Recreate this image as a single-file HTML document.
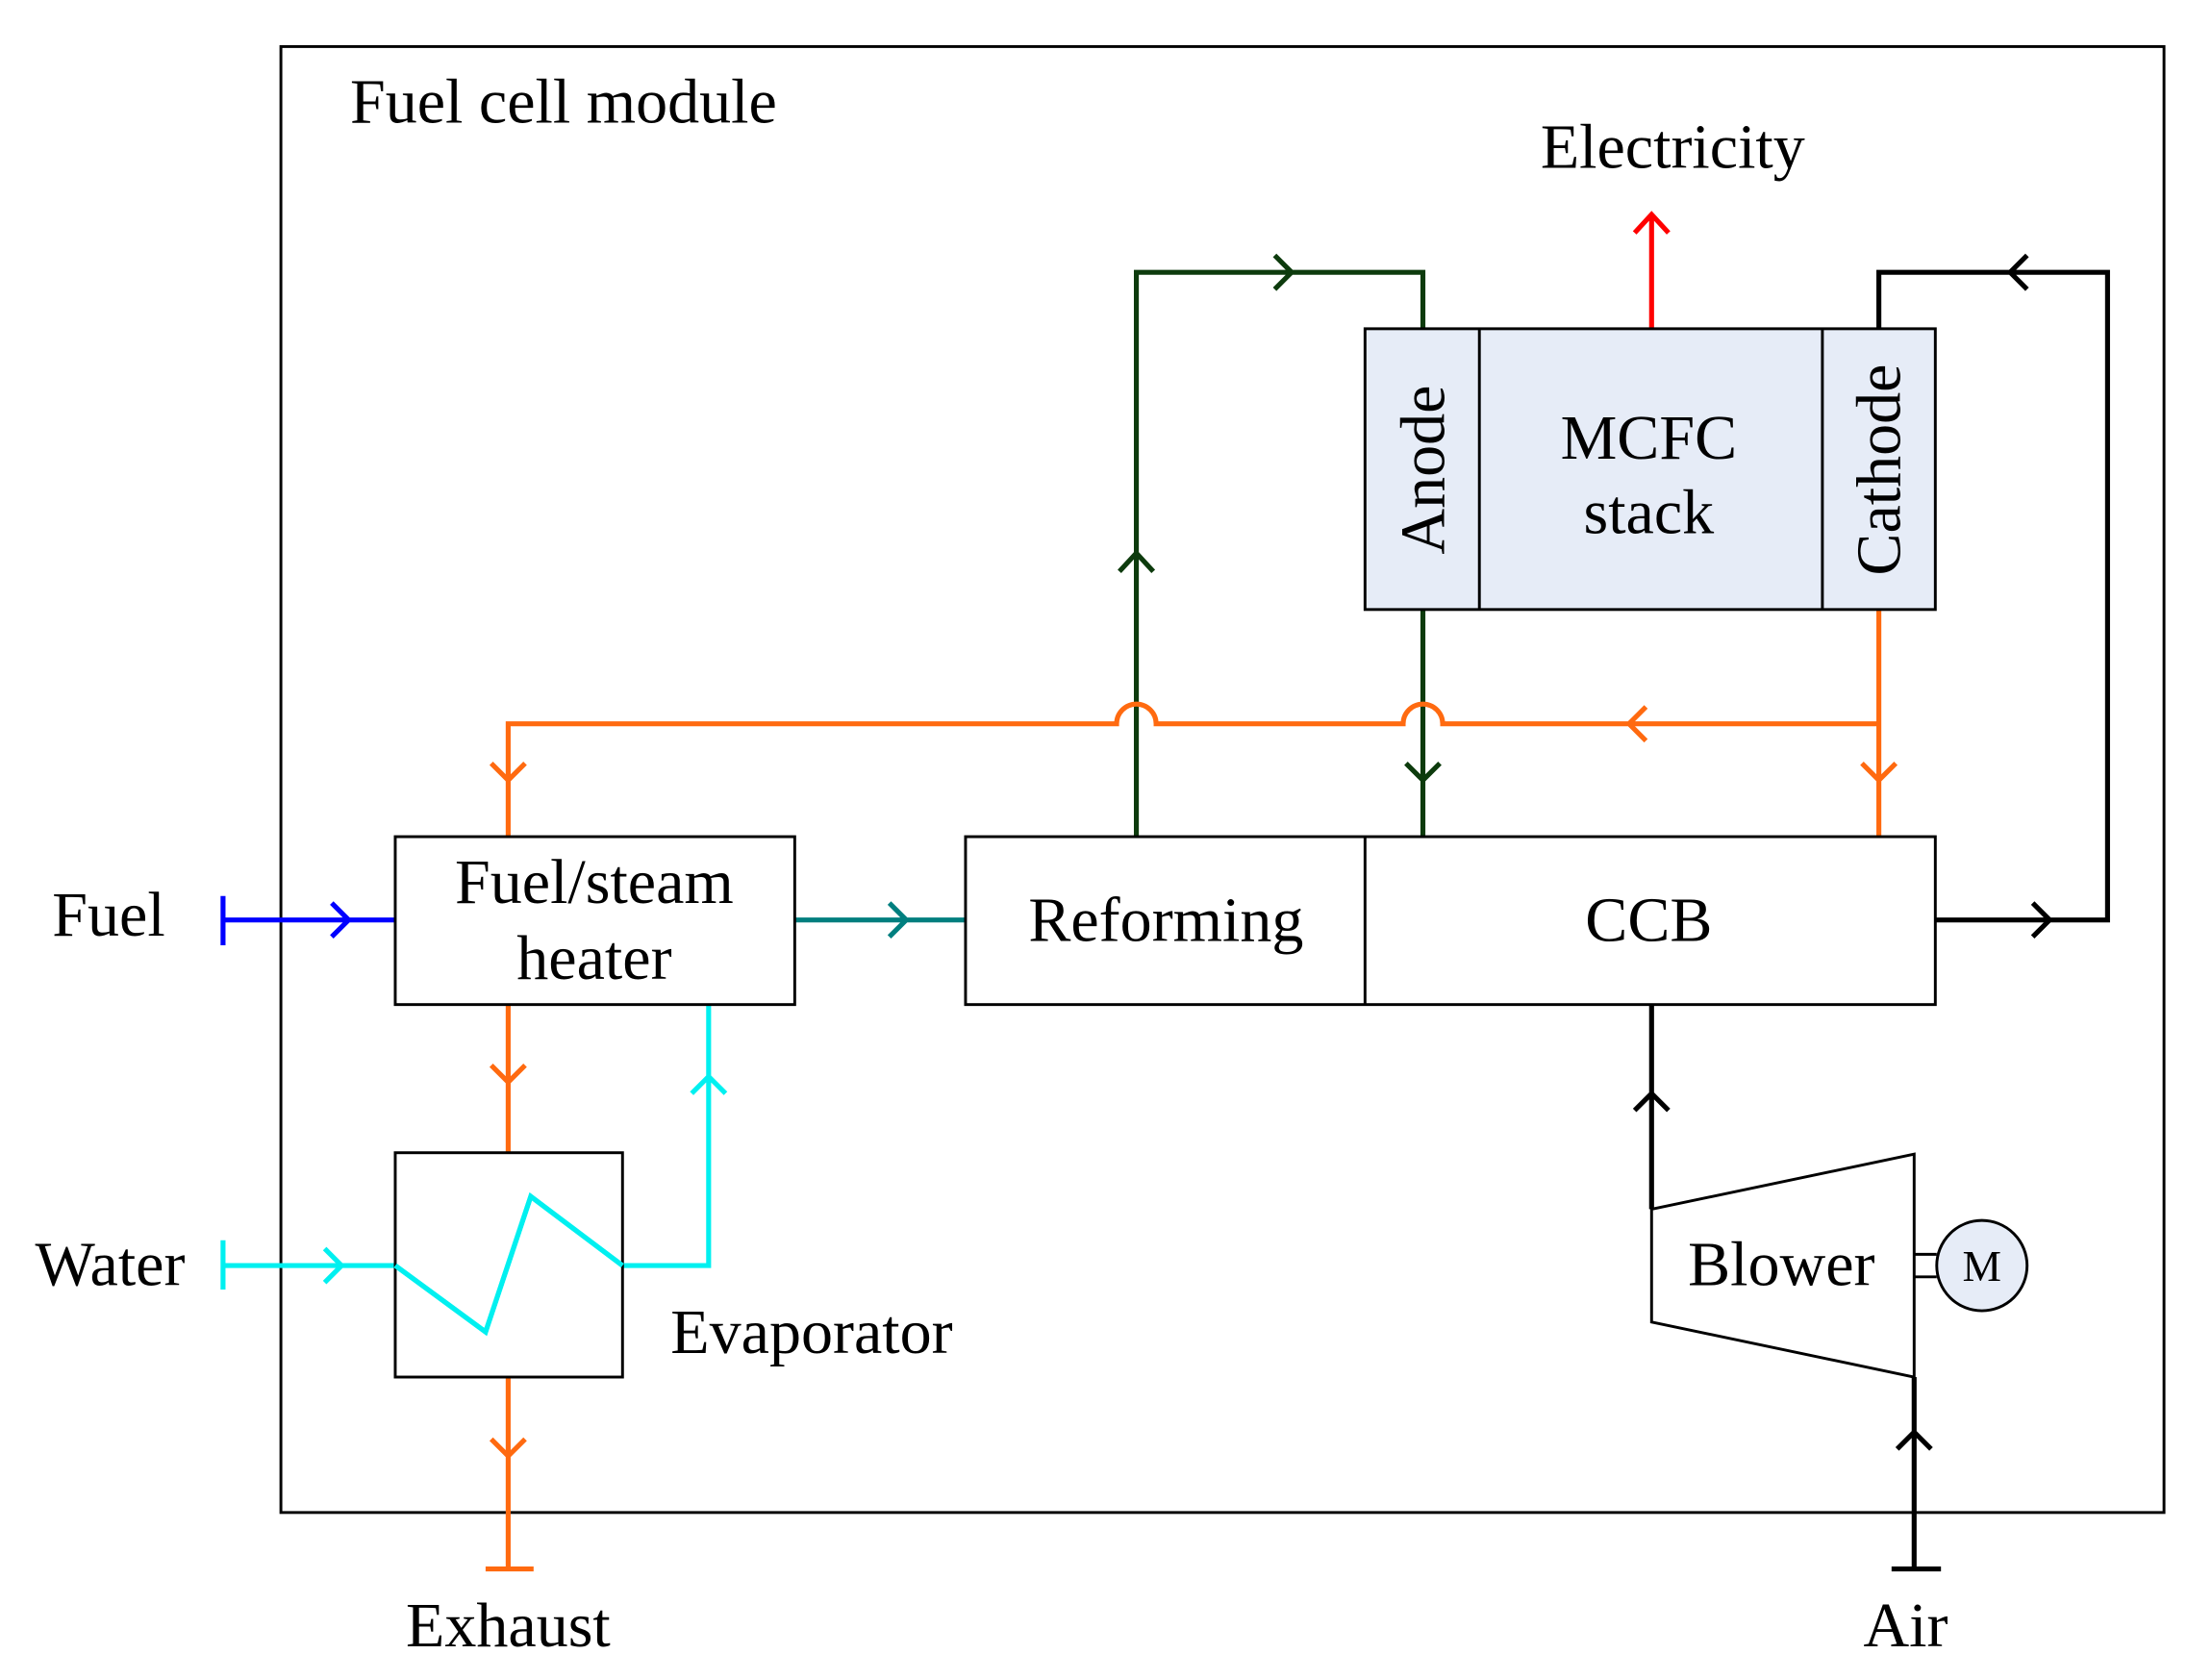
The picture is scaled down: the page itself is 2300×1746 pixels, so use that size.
<!DOCTYPE html>
<html><head><meta charset="utf-8"><style>html,body{margin:0;padding:0;background:#fff}svg{display:block}</style></head>
<body>
<svg width="2300" height="1746" viewBox="0 0 1567 1190" preserveAspectRatio="none" xmlns="http://www.w3.org/2000/svg" font-family="Liberation Serif, serif" font-size="45">
<rect x="199" y="33" width="1334" height="1039" fill="none" stroke="#000" stroke-width="2"/>
<text x="248" y="87">Fuel cell module</text>
<text x="1185" y="119" text-anchor="middle">Electricity</text>
<g fill="none" stroke-width="3.5">
<path d="M1170 233V152M1158 165L1170 152L1182 165" stroke="#ff0000"/>
<path d="M805 593V193H1008V233M793 405L805 392L817 405M903 181L915 193L903 205M1008 432V593M996 541L1008 553L1020 541" stroke="#0d3b0d"/>
<path d="M1331 432V593M1319 541L1331 553L1343 541M1331 513H1022A14 14 0 0 0 994 513H819A14 14 0 0 0 791 513H360V593M348 541L360 553L372 541M1166 501L1154 513L1166 525M360 712V817M348 755L360 767L372 755M360 976V1112M344 1112H378M348 1020L360 1032L372 1020" stroke="#ff6a10"/>
<path d="M1331 233V193H1493V652H1371M1436 181L1424 193L1436 205M1440 640L1452 652L1440 664M1170 712V857M1158 787L1170 775L1182 787M1356 976V1112M1340 1112H1375M1344 1027L1356 1015L1368 1027" stroke="#000"/>
<path d="M563 652H684M630 640L642 652L630 664" stroke="#007f7f"/>
<path d="M158 635V670M158 652H280M235 640L247 652L235 664" stroke="#0000ff"/>
<path d="M158 879V914M158 897H280L344 944L376 848L441 897H502V712M230 885L242 897L230 909M490 775L502 763L514 775" stroke="#00f0f0"/>
</g>
<rect x="967" y="233" width="404" height="199" fill="#e6ecf7" stroke="#000" stroke-width="2"/>
<path d="M1048 233V432M1291 233V432" stroke="#000" stroke-width="2"/>
<text transform="translate(1023 333) rotate(-90)" text-anchor="middle">Anode</text>
<text transform="translate(1346 333) rotate(-90)" text-anchor="middle">Cathode</text>
<text x="1168" y="325" text-anchor="middle">MCFC</text>
<text x="1168" y="378" text-anchor="middle">stack</text>
<rect x="280" y="593" width="283" height="119" fill="#fff" stroke="#000" stroke-width="2"/>
<text x="421" y="640" text-anchor="middle">Fuel/steam</text>
<text x="421" y="694" text-anchor="middle">heater</text>
<rect x="684" y="593" width="687" height="119" fill="#fff" stroke="#000" stroke-width="2"/>
<path d="M967 593V712" stroke="#000" stroke-width="2"/>
<text x="826" y="667" text-anchor="middle">Reforming</text>
<text x="1168" y="667" text-anchor="middle">CCB</text>
<rect x="280" y="817" width="161" height="159" fill="none" stroke="#000" stroke-width="2"/>
<path d="M280 897L344 944L376 848L441 897" fill="none" stroke="#00f0f0" stroke-width="3.5"/>
<text x="77" y="663" text-anchor="middle">Fuel</text>
<text x="78" y="911" text-anchor="middle">Water</text>
<text x="575" y="959" text-anchor="middle">Evaporator</text>
<text x="360" y="1167" text-anchor="middle">Exhaust</text>
<text x="1350" y="1167" text-anchor="middle">Air</text>
<path d="M1170 857L1356 818V976L1170 937Z" fill="#fff" stroke="#000" stroke-width="2"/>
<text x="1262" y="911" text-anchor="middle">Blower</text>
<path d="M1356 889H1372M1356 905H1372" stroke="#000" stroke-width="2"/>
<circle cx="1404" cy="897" r="32" fill="#e6ecf7" stroke="#000" stroke-width="2"/>
<text x="1404" y="908" text-anchor="middle" font-size="31">M</text>
</svg>
</body></html>
